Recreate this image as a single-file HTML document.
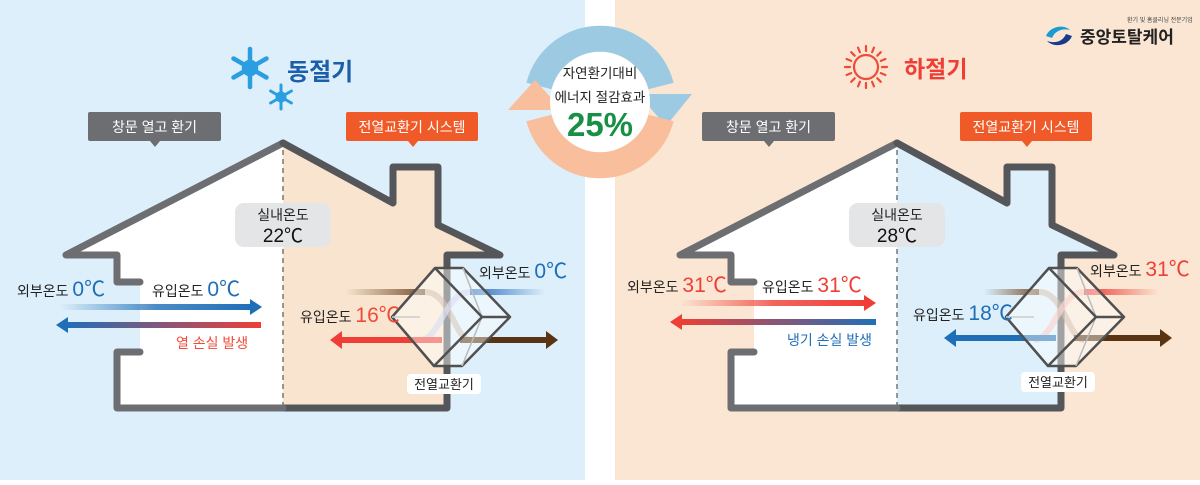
<!DOCTYPE html>
<html><head><meta charset="utf-8"><style>
body{margin:0;width:1200px;height:480px;overflow:hidden;background:#fff;font-family:"Liberation Sans","Noto Sans CJK KR",sans-serif}
svg text{font-family:"Liberation Sans","Noto Sans CJK KR",sans-serif}
</style></head><body>
<svg width="1200" height="480" viewBox="0 0 1200 480" xmlns="http://www.w3.org/2000/svg">
<defs>
<linearGradient id="gBlueR" x1="0" x2="1"><stop offset="0" stop-color="#1f6fb8" stop-opacity="0"/><stop offset="0.5" stop-color="#1f6fb8" stop-opacity="0.8"/><stop offset="1" stop-color="#1f6fb8"/></linearGradient>
<linearGradient id="gBR" x1="0" x2="1"><stop offset="0" stop-color="#1f6fb8"/><stop offset="1" stop-color="#ef3e36"/></linearGradient>
<linearGradient id="gRedR" x1="0" x2="1"><stop offset="0" stop-color="#ef3e36" stop-opacity="0"/><stop offset="0.5" stop-color="#ef3e36" stop-opacity="0.8"/><stop offset="1" stop-color="#ef3e36"/></linearGradient>
<linearGradient id="gRB" x1="0" x2="1"><stop offset="0" stop-color="#ef3e36"/><stop offset="1" stop-color="#1f6fb8"/></linearGradient>
<linearGradient id="gBrownIn" x1="0" x2="1"><stop offset="0" stop-color="#7a5535" stop-opacity="0"/><stop offset="1" stop-color="#7a5535"/></linearGradient>
<linearGradient id="gBlueOut" x1="0" x2="1"><stop offset="0" stop-color="#2a6fc0"/><stop offset="1" stop-color="#2a6fc0" stop-opacity="0"/></linearGradient>
<linearGradient id="gRedOut" x1="0" x2="1"><stop offset="0" stop-color="#ef3e36"/><stop offset="1" stop-color="#ef3e36" stop-opacity="0"/></linearGradient>
</defs>

<rect x="-20" y="-20" width="605" height="520" rx="22" fill="#ddeffb"/>
<rect x="615" y="-20" width="605" height="520" rx="22" fill="#fae6d2"/>

<!-- ===== LEFT HOUSE ===== -->
<g>
<polygon points="66,255 283,143 283,408 117,408 117,352 140,352 140,282 117,282 117,255" fill="#fff"/>
<polygon points="283,143 393,203 393,167 438,167 438,225 500,255 447,255 447,408 283,408" fill="#f9e5cf"/>
<polyline points="140,282 117,282 117,255 66,255 283,143" fill="none" stroke="#6d6e71" stroke-width="7" stroke-linejoin="round" stroke-linecap="round"/>
<polyline points="283,143 393,203 393,167 438,167 438,225 500,255 447,255 447,408 283,408" fill="none" stroke="#555659" stroke-width="7" stroke-linejoin="round" stroke-linecap="round"/>
<polyline points="140,352 117,352 117,408 283,408" fill="none" stroke="#6d6e71" stroke-width="7" stroke-linejoin="round" stroke-linecap="round"/>
<line x1="283" y1="150" x2="283" y2="405" stroke="#777" stroke-width="1.5" stroke-dasharray="5,4"/>
<rect x="235" y="203" width="96" height="44" rx="9" fill="#e4e5e7"/>
<text x="283" y="220" font-size="14" text-anchor="middle" fill="#222">실내온도</text>
<text x="283" y="242" font-size="19" text-anchor="middle" fill="#111">22℃</text>

<rect x="60" y="304" width="192" height="6" fill="url(#gBlueR)"/>
<polygon points="250,299 262,307 250,315" fill="#1f6fb8"/>
<rect x="66" y="322" width="195" height="6" fill="url(#gBR)"/>
<polygon points="68,317 56,325 68,333" fill="#1f6fb8"/>
<text x="17" y="296" font-size="14" fill="#222">외부온도 <tspan font-size="21" fill="#1f6fb8">0℃</tspan></text>
<text x="152" y="296" font-size="14" fill="#222">유입온도 <tspan font-size="21" fill="#1f6fb8">0℃</tspan></text>
<text x="176" y="348" font-size="14" fill="#ef4b36">열 손실 발생</text>

<rect x="345" y="289" width="80" height="6" fill="url(#gBrownIn)"/>
<rect x="470" y="289" width="75" height="6" fill="url(#gBlueOut)"/>
<path d="M425,292 C450,292 455,340 470,340" fill="none" stroke="#b89b80" stroke-width="6" opacity="0.6"/>
<path d="M470,292 C445,292 440,340 420,340" fill="none" stroke="#bfc8e8" stroke-width="6" opacity="0.7"/>
<rect x="342" y="337" width="100" height="6" fill="#ef3e36"/>
<polygon points="342,331 330,340 342,349" fill="#ef3e36"/>
<rect x="460" y="337" width="88" height="6" fill="#5a3412"/>
<polygon points="546,331 558,340 546,349" fill="#5a3412"/>
<polygon points="392,317 435,268 463,268 510,317 462,366 434,366" fill="#fff" fill-opacity="0.45" stroke="#505050" stroke-width="2.5" stroke-linejoin="round"/>
<polyline points="463,268 482,317 462,366" fill="none" stroke="#bbb" stroke-width="1.5"/>
<polyline points="435,268 482,317 434,366" fill="none" stroke="#505050" stroke-width="2.5"/>
<line x1="482" y1="317" x2="510" y2="317" stroke="#505050" stroke-width="2.5"/>
<line x1="392" y1="317" x2="420" y2="317" stroke="#ccc" stroke-width="1.5"/>
<text x="300" y="322" font-size="14" fill="#222">유입온도 <tspan font-size="21" fill="#ef4b36">16℃</tspan></text>
<text x="479" y="278" font-size="14" fill="#222">외부온도 <tspan font-size="21" fill="#1f6fb8">0℃</tspan></text>
<rect x="407" y="374" width="74" height="20" rx="4" fill="#fff"/>
<text x="444" y="389" font-size="13" text-anchor="middle" fill="#222">전열교환기</text>

<rect x="88" y="112" width="133" height="29" rx="2" fill="#6d6e71"/>
<polygon points="150,141 160,141 155,147" fill="#6d6e71"/>
<text x="154.5" y="132" font-size="14" text-anchor="middle" fill="#fff">창문 열고 환기</text>
<rect x="346" y="112" width="132" height="29" rx="2" fill="#f05a28"/>
<polygon points="408,141 418,141 413,147" fill="#f05a28"/>
<text x="412" y="132" font-size="14" text-anchor="middle" fill="#fff">전열교환기 시스템</text>
</g>

<g stroke="#2a9ee0" stroke-width="4.5" stroke-linecap="round" fill="none">
<g transform="translate(250,68)">
<line x1="0" y1="-19" x2="0" y2="19"/><line x1="-16.5" y1="-9.5" x2="16.5" y2="9.5"/><line x1="-16.5" y1="9.5" x2="16.5" y2="-9.5"/>
<circle r="6"/>
</g>
<g transform="translate(281,97)" stroke-width="3">
<line x1="0" y1="-12" x2="0" y2="12"/><line x1="-10.4" y1="-6" x2="10.4" y2="6"/><line x1="-10.4" y1="6" x2="10.4" y2="-6"/>
<circle r="4"/>
</g>
</g>
<text x="287" y="80" font-size="24" font-weight="bold" fill="#1a5fa8">동절기</text>

<!-- ===== CENTER CIRCLE ===== -->
<path d="M539,86 A63,63 0 0 1 661,86" fill="none" stroke="#9ccae3" stroke-width="26"/>
<polygon points="638,94 692,94 666,126" fill="#9ccae3"/>
<path d="M661,118 A63,63 0 0 1 539,118" fill="none" stroke="#f9be9b" stroke-width="26"/>
<polygon points="508,110 562,110 535,80" fill="#f9be9b"/>
<circle cx="600" cy="102" r="50" fill="#fff"/>
<text x="600" y="78" font-size="13.5" text-anchor="middle" fill="#222">자연환기대비</text>
<text x="600" y="102" font-size="13.5" text-anchor="middle" fill="#222">에너지 절감효과</text>
<text x="600" y="136" font-size="33" font-weight="bold" text-anchor="middle" fill="#179046">25%</text>

<!-- ===== RIGHT HOUSE ===== -->
<g transform="translate(614,0)">
<polygon points="66,255 283,143 283,408 117,408 117,352 140,352 140,282 117,282 117,255" fill="#fff"/>
<polygon points="283,143 393,203 393,167 438,167 438,225 500,255 447,255 447,408 283,408" fill="#ddeffb"/>
<polyline points="140,282 117,282 117,255 66,255 283,143" fill="none" stroke="#6d6e71" stroke-width="7" stroke-linejoin="round" stroke-linecap="round"/>
<polyline points="283,143 393,203 393,167 438,167 438,225 500,255 447,255 447,408 283,408" fill="none" stroke="#555659" stroke-width="7" stroke-linejoin="round" stroke-linecap="round"/>
<polyline points="140,352 117,352 117,408 283,408" fill="none" stroke="#6d6e71" stroke-width="7" stroke-linejoin="round" stroke-linecap="round"/>
<line x1="283" y1="150" x2="283" y2="405" stroke="#777" stroke-width="1.5" stroke-dasharray="5,4"/>
<rect x="235" y="203" width="96" height="44" rx="9" fill="#e4e5e7"/>
<text x="283" y="220" font-size="14" text-anchor="middle" fill="#222">실내온도</text>
<text x="283" y="242" font-size="19" text-anchor="middle" fill="#111">28℃</text>

<rect x="66" y="300" width="186" height="6" fill="url(#gRedR)"/>
<polygon points="250,295 262,303 250,311" fill="#ef3e36"/>
<rect x="66" y="319" width="196" height="6" fill="url(#gRB)"/>
<polygon points="68,314 56,322 68,330" fill="#ef3e36"/>
<text x="13" y="292" font-size="14" fill="#222">외부온도 <tspan font-size="21" fill="#ef3e36">31℃</tspan></text>
<text x="148" y="292" font-size="14" fill="#222">유입온도 <tspan font-size="21" fill="#ef3e36">31℃</tspan></text>
<text x="173" y="345" font-size="14" fill="#1f6fb8">냉기 손실 발생</text>

<rect x="370" y="289" width="55" height="6" fill="url(#gBrownIn)"/>
<rect x="470" y="289" width="75" height="6" fill="url(#gRedOut)"/>
<path d="M425,292 C450,292 455,340 470,340" fill="none" stroke="#b89b80" stroke-width="6" opacity="0.6"/>
<path d="M470,292 C445,292 440,340 420,340" fill="none" stroke="#f3b5a8" stroke-width="6" opacity="0.7"/>
<rect x="342" y="335" width="100" height="6" fill="#1f6fb8"/>
<polygon points="342,329 330,338 342,347" fill="#1f6fb8"/>
<rect x="460" y="335" width="88" height="6" fill="#5a3412"/>
<polygon points="546,329 558,338 546,347" fill="#5a3412"/>
<polygon points="392,317 435,268 463,268 510,317 462,366 434,366" fill="#fff" fill-opacity="0.45" stroke="#505050" stroke-width="2.5" stroke-linejoin="round"/>
<polyline points="463,268 482,317 462,366" fill="none" stroke="#bbb" stroke-width="1.5"/>
<polyline points="435,268 482,317 434,366" fill="none" stroke="#505050" stroke-width="2.5"/>
<line x1="482" y1="317" x2="510" y2="317" stroke="#505050" stroke-width="2.5"/>
<line x1="392" y1="317" x2="420" y2="317" stroke="#ccc" stroke-width="1.5"/>
<text x="299" y="320" font-size="14" fill="#222">유입온도 <tspan font-size="21" fill="#1f6fb8">18℃</tspan></text>
<text x="476" y="276" font-size="14" fill="#222">외부온도 <tspan font-size="21" fill="#ef3e36">31℃</tspan></text>
<rect x="407" y="372" width="74" height="20" rx="4" fill="#fff"/>
<text x="444" y="387" font-size="13" text-anchor="middle" fill="#222">전열교환기</text>

<rect x="88" y="112" width="133" height="29" rx="2" fill="#6d6e71"/>
<polygon points="150,141 160,141 155,147" fill="#6d6e71"/>
<text x="154.5" y="132" font-size="14" text-anchor="middle" fill="#fff">창문 열고 환기</text>
<rect x="346" y="112" width="132" height="29" rx="2" fill="#f05a28"/>
<polygon points="408,141 418,141 413,147" fill="#f05a28"/>
<text x="412" y="132" font-size="14" text-anchor="middle" fill="#fff">전열교환기 시스템</text>
</g>

<g transform="translate(866,67)" stroke="#ef4b36" stroke-width="2.2" fill="none" stroke-linecap="round">
<circle r="12"/>
<line x1="0" y1="-16" x2="0" y2="-21"/><line x1="0" y1="16" x2="0" y2="21"/>
<line x1="-16" y1="0" x2="-21" y2="0"/><line x1="16" y1="0" x2="21" y2="0"/>
<line x1="11.3" y1="11.3" x2="14.8" y2="14.8"/><line x1="-11.3" y1="-11.3" x2="-14.8" y2="-14.8"/>
<line x1="11.3" y1="-11.3" x2="14.8" y2="-14.8"/><line x1="-11.3" y1="11.3" x2="-14.8" y2="14.8"/>
<line x1="6.1" y1="14.8" x2="8" y2="19.4"/><line x1="-6.1" y1="-14.8" x2="-8" y2="-19.4"/>
<line x1="6.1" y1="-14.8" x2="8" y2="-19.4"/><line x1="-6.1" y1="14.8" x2="-8" y2="19.4"/>
<line x1="14.8" y1="6.1" x2="19.4" y2="8"/><line x1="-14.8" y1="-6.1" x2="-19.4" y2="-8"/>
<line x1="14.8" y1="-6.1" x2="19.4" y2="-8"/><line x1="-14.8" y1="6.1" x2="-19.4" y2="8"/>
</g>
<text x="904" y="77" font-size="23" font-weight="bold" fill="#ef3e36">하절기</text>

<path d="M1046,36 C1050,26 1064,24 1070,30 C1062,28 1055,31 1052,38 Z" fill="#1b9ad6"/>
<path d="M1072,36 C1068,46 1054,48 1047,41 C1056,44 1063,41 1066,34 Z" fill="#1a3a8c"/>
<text x="1080" y="43" font-size="17" font-weight="bold" fill="#222">중앙토탈케어</text>
<text x="1127" y="22" font-size="6" fill="#444">환기 및 홈클리닝 전문기업</text>
</svg>
</body></html>
